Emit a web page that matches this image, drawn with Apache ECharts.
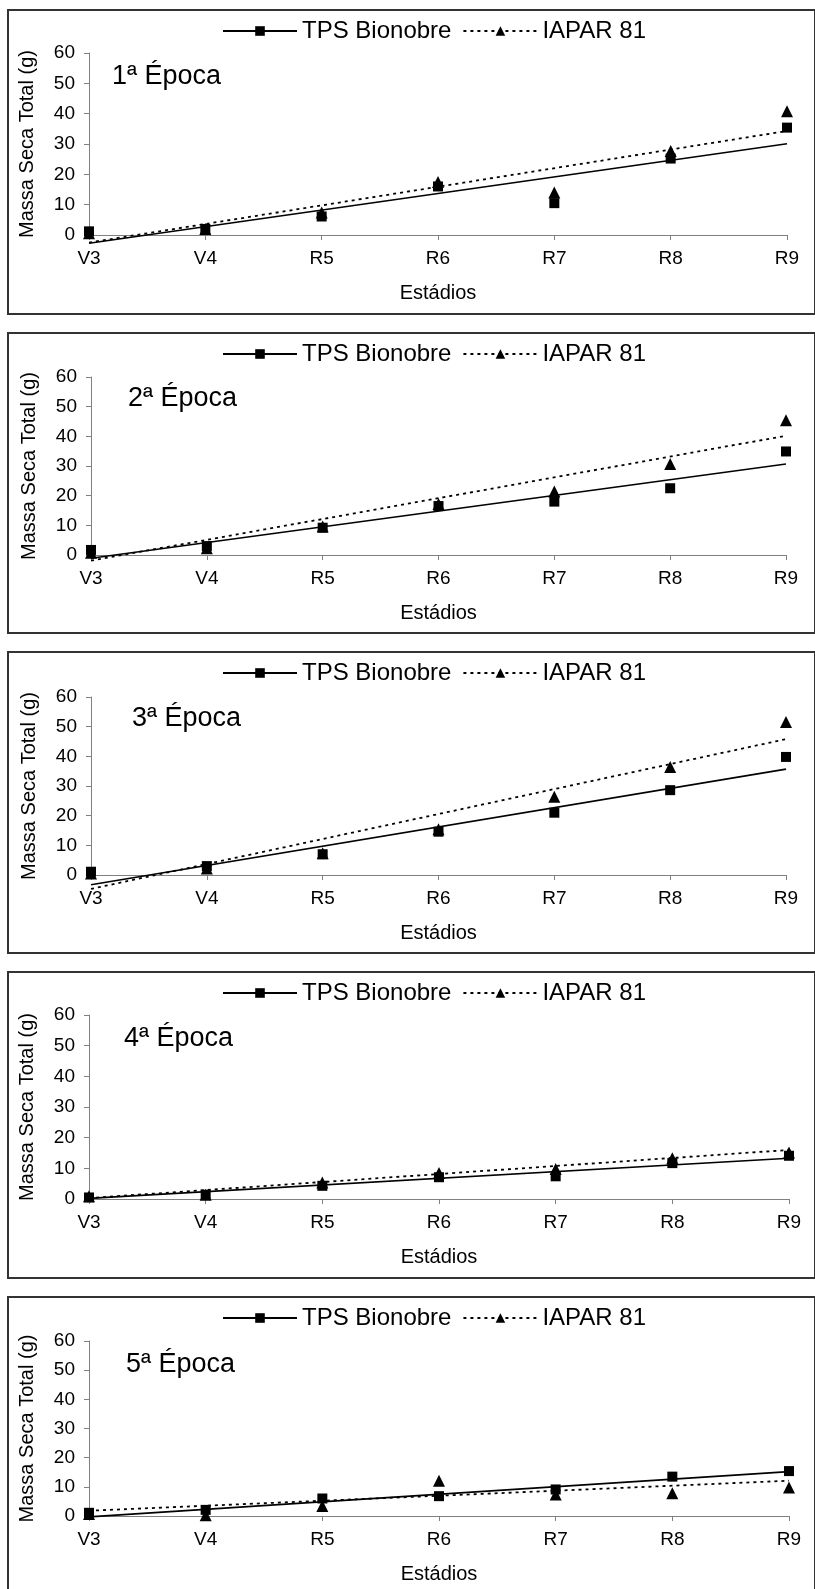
<!DOCTYPE html>
<html>
<head>
<meta charset="utf-8">
<title>Massa Seca Total</title>
<script src="https://cdn.jsdelivr.net/npm/echarts@6/dist/echarts.min.js"></script>
<style>
body{margin:0;background:#fff;width:815px;height:1589px;overflow:hidden;position:relative;}
.painel{position:absolute;left:7px;width:809px;box-sizing:border-box;border:2px solid #333;background:#fff;}
</style>
</head>
<body>
<div id="p1" class="painel" style="top:9px;height:306px"></div>
<div id="p2" class="painel" style="top:332px;height:302px"></div>
<div id="p3" class="painel" style="top:651px;height:303px"></div>
<div id="p4" class="painel" style="top:971px;height:308px"></div>
<div id="p5" class="painel" style="top:1296px;height:300px"></div>
<script>
//estádios (eixo x)
var estadios = ['V3','V4','R5','R6','R7','R8','R9'];
var epocas = ['1ª Época','2ª Época','3ª Época','4ª Época','5ª Época'];

//TPS Bionobre, por época
var tps1 = [1.2, 2.0, 6.1, 16.0, 10.5, 25.2, 35.4];
var tps2 = [1.7, 3.0, 9.2, 16.5, 18.0, 22.5, 34.9];
var tps3 = [1.1, 3.0, 7.0, 14.6, 21.0, 28.6, 39.8];
var tps4 = [0.5, 1.4, 4.3, 7.1, 7.4, 11.7, 14.1];
var tps5 = [1.1, 2.1, 6.0, 6.8, 9.1, 13.5, 15.4];

//IAPAR 81, por época
var iapar1 = [0.6, 2.0, 7.4, 17.5, 14.0, 27.7, 40.8];
var iapar2 = [0.8, 2.3, 9.6, 17.2, 21.4, 30.7, 45.4];
var iapar3 = [0.5, 2.2, 7.3, 15.4, 26.4, 36.4, 51.6];
var iapar4 = [0.9, 1.4, 5.4, 8.5, 9.8, 13.3, 15.2];
var iapar5 = [0.7, 0.3, 3.4, 12.1, 7.4, 7.8, 9.8];

//linhas de tendência: valor em V3 e em R9
var tendTps1 = [-2.7, 30.1];
var tendTps2 = [-1.1, 30.7];
var tendTps3 = [-3.3, 35.7];
var tendTps4 = [0.2, 13.3];
var tendTps5 = [-0.3, 15.2];
var tendIapar1 = [-2.5, 34.3];
var tendIapar2 = [-1.9, 40.2];
var tendIapar3 = [-4.7, 45.8];
var tendIapar4 = [0.3, 16.0];
var tendIapar5 = [1.8, 12.1];

var fonte = "'Liberation Sans', Arial, sans-serif";
var corEixo = '#808080';

//posição da área do gráfico em cada painel
var grades = [
	{left:80, right:27, top:42, height:182, tituloX:103, tituloY:52},
	{left:82, right:28, top:43, height:178, tituloX:119, tituloY:51},
	{left:82, right:28, top:44, height:178, tituloX:123, tituloY:52},
	{left:80, right:25, top:42, height:184, tituloX:115, tituloY:52},
	{left:80, right:25, top:43, height:175, tituloX:117, tituloY:53}
];

function tendencia(v)
{
	return [[estadios[0], v[0]], [estadios[estadios.length - 1], v[1]]];
}

function loadPainel(id, titulo, tps, iapar, tendTps, tendIapar, g)
{
	var myChart = echarts.init(document.getElementById(id));

	var option = {
		animation : false,
		textStyle : { fontFamily: fonte, color: '#000' },
		graphic : [
			{
				type : 'text',
				left : g.tituloX,
				top : g.tituloY,
				style : { text: titulo, fontSize: 27, fontFamily: fonte, fill: '#000' }
			}
		],
		legend : {
			data : ['TPS Bionobre', 'IAPAR 81'],
			left : 213,
			top : 8,
			padding : 0,
			itemWidth : 74,
			itemHeight : 12,
			itemGap : 11,
			selectedMode : false,
			textStyle : { fontSize: 24, color: '#000', fontFamily: fonte }
		},
		grid : {
			left : g.left,
			right : g.right,
			top : g.top,
			height : g.height
		},
		xAxis : {
			type : 'category',
			data : estadios,
			boundaryGap : false,
			axisLine : { onZero: false, lineStyle: { color: corEixo, width: 1 } },
			axisTick : { show: true, length: 5, lineStyle: { color: corEixo } },
			axisLabel : { fontSize: 19, margin: 14, color: '#000', fontFamily: fonte },
			name : 'Estádios',
			nameLocation : 'middle',
			nameGap : 48,
			nameTextStyle : { fontSize: 20, color: '#000', fontFamily: fonte }
		},
		yAxis : {
			type : 'value',
			min : 0,
			max : 60,
			interval : 10,
			axisLine : { show: true, lineStyle: { color: corEixo, width: 1 } },
			axisTick : { show: true, length: 5, lineStyle: { color: corEixo } },
			splitLine : { show: false },
			axisLabel : { fontSize: 19, margin: 14, color: '#000', fontFamily: fonte },
			name : 'Massa Seca Total (g)',
			nameLocation : 'middle',
			nameRotate : 90,
			nameGap : 52,
			nameTextStyle : { fontSize: 20, color: '#000', fontFamily: fonte }
		},
		series : [
			{
				name : 'TPS Bionobre',
				type : 'line',
				data : tendencia(tendTps),
				symbol : 'rect',
				showSymbol : false,
				clip : false,
				silent : true,
				itemStyle : { color: '#000' },
				lineStyle : { color: '#000', width: 1.6, type: 'solid' },
				z : 2
			},
			{
				name : 'IAPAR 81',
				type : 'line',
				data : tendencia(tendIapar),
				symbol : 'triangle',
				showSymbol : false,
				clip : false,
				silent : true,
				itemStyle : { color: '#000' },
				lineStyle : { color: '#000', width: 1.8, type: [3, 4] },
				z : 2
			},
			{
				name : 'IAPAR 81',
				type : 'scatter',
				data : iapar,
				symbol : 'triangle',
				symbolSize : [12, 12],
				itemStyle : { color: '#000', opacity: 1 },
				z : 3
			},
			{
				name : 'TPS Bionobre',
				type : 'scatter',
				data : tps,
				symbol : 'rect',
				symbolSize : 10,
				itemStyle : { color: '#000', opacity: 1 },
				z : 4
			}
		]
	};

	myChart.setOption(option);
}

loadPainel('p1', epocas[0], tps1, iapar1, tendTps1, tendIapar1, grades[0]);
loadPainel('p2', epocas[1], tps2, iapar2, tendTps2, tendIapar2, grades[1]);
loadPainel('p3', epocas[2], tps3, iapar3, tendTps3, tendIapar3, grades[2]);
loadPainel('p4', epocas[3], tps4, iapar4, tendTps4, tendIapar4, grades[3]);
loadPainel('p5', epocas[4], tps5, iapar5, tendTps5, tendIapar5, grades[4]);
</script>
</body>
</html>
